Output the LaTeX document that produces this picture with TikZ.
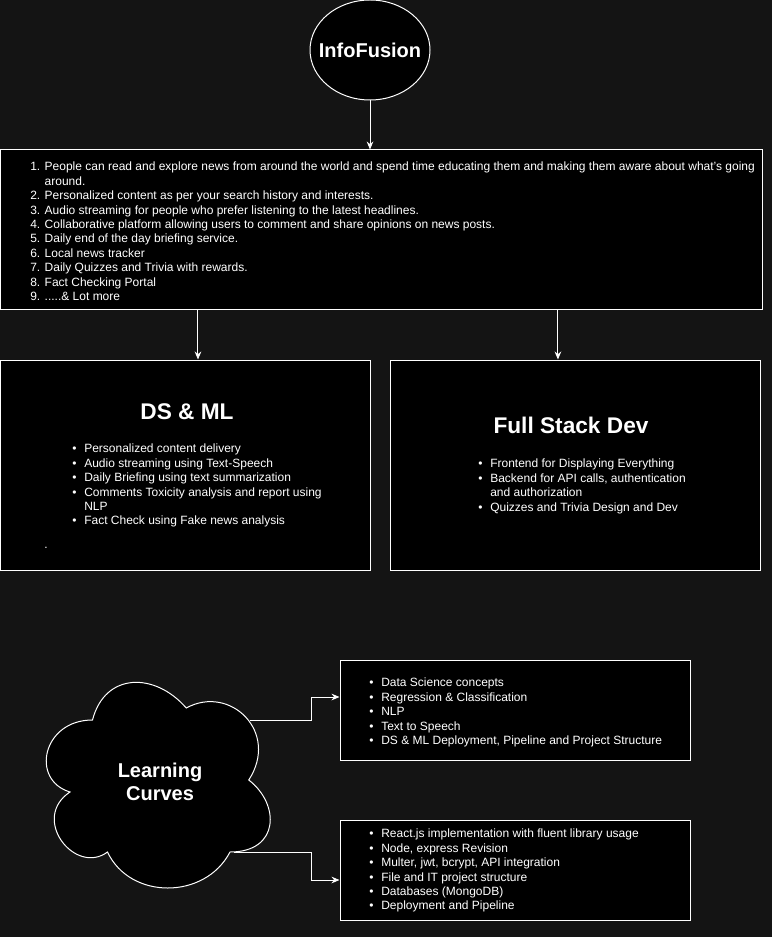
\documentclass[tikz,border=0pt]{standalone}
\usepackage{fontspec}
\setmainfont{Liberation Sans}
\usetikzlibrary{arrows.meta,calc,shapes.geometric}
\definecolor{canvas}{HTML}{141414}
\newcommand{\itm}{\makebox[9pt][l]{\textbullet}}

\begin{document}
\begin{tikzpicture}[x=0.75pt,y=-0.75pt,
    box/.style={draw=white,fill=black,line width=0.75pt,inner sep=0pt},
    txt/.style={text=white,font=\fontsize{9}{10.8}\selectfont,align=left,inner sep=0pt,anchor=north west},
    ttl/.style={text=white,font=\fontsize{15}{17.25}\selectfont\bfseries,align=center,inner sep=0pt},
    big/.style={ttl,font=\fontsize{17}{20}\selectfont\bfseries},
    arr/.style={draw=white,line width=0.75pt,-{Stealth[length=6pt,width=5pt]}}]

\fill[canvas] (0,0) rectangle (772,937);
\useasboundingbox (0,0) rectangle (772,937);

% idea
\node[box,ttl,ellipse,inner xsep=-8pt,minimum width=90pt,minimum height=75pt] (info) at (370,50) {InfoFusion};

\node[box,minimum width=571.5pt,minimum height=120pt] (feat) at (381,230) {};
\node[txt] (featlist) at (30,162) {1. People can read and explore news from around the world and spend time educating them and making them aware about what's going\\
\phantom{1. }around.\\
2. Personalized content as per your search history and interests.\\
3. Audio streaming for people who prefer listening to the latest headlines.\\
4. Collaborative platform allowing users to comment and share opinions on news posts.\\
5. Daily end of the day briefing service.\\
6. Local news tracker\\
7. Daily Quizzes and Trivia with rewards.\\
8. Fact Checking Portal\\
9. .....\& Lot more};

% the two teams
\node[box,minimum width=277.5pt,minimum height=157.5pt] (ds) at (185,465) {};
\node[big] (dsttl) at (187,412) {DS \& ML};
\node[txt] (dslist) at (72,444) {\itm Personalized content delivery\\
\itm Audio streaming using Text-Speech\\
\itm Daily Briefing using text summarization\\
\itm Comments Toxicity analysis and report using\\
\hspace*{9pt}NLP\\
\itm Fact Check using Fake news analysis};
\node[txt,anchor=center] (dot) at (46,548) {.};

\node[box,minimum width=277.5pt,minimum height=157.5pt] (fs) at (575,465) {};
\node[big] (fsttl) at (571,425) {Full Stack Dev};
\node[txt] (fslist) at (478,459) {\itm Frontend for Displaying Everything\\
\itm Backend for API calls, authentication\\
\hspace*{9pt}and authorization\\
\itm Quizzes and Trivia Design and Dev};

% learning curves
\draw[box] (92.5,720) .. controls (42.5,720) and (30,780) .. (70,792)
  .. controls (30,818.4) and (75,876) .. (107.5,852)
  .. controls (130,900) and (205,900) .. (230,852)
  .. controls (280,852) and (280,804) .. (248.75,780)
  .. controls (280,732) and (230,684) .. (186.25,708)
  .. controls (155,672) and (105,672) .. (92.5,720) -- cycle;
\node[ttl] (learn) at (160,782) {Learning\\Curves};

\node[box,minimum width=262.5pt,minimum height=75pt] (ml) at (515,710) {};
\node[txt] (mllist) at (369,678) {\itm Data Science concepts\\
\itm Regression \& Classification\\
\itm NLP\\
\itm Text to Speech\\
\itm DS \& ML Deployment, Pipeline and Project Structure};

\node[box,minimum width=262.5pt,minimum height=75pt] (web) at (515,870) {};
\node[txt] (weblist) at (369,829) {\itm React.js implementation with fluent library usage\\
\itm Node, express Revision\\
\itm Multer, jwt, bcrypt, API integration\\
\itm File and IT project structure\\
\itm Databases (MongoDB)\\
\itm Deployment and Pipeline};

% arrows
\coordinate (dsin) at ($(ds.north west)!0.535!(ds.north east)$);
\coordinate (fsin) at ($(fs.north west)!0.454!(fs.north east)$);
\draw[arr] (info.south) -- (info.south |- feat.north);
\draw[arr] (dsin |- feat.south) -- (dsin);
\draw[arr] (fsin |- feat.south) -- (fsin);
\draw[arr] ($(learn)+(90,-62)$) -- ++(61,0) |- ($(ml.west)+(0,-13)$);
\draw[arr] ($(learn)+(74,70)$) -- ++(77,0) |- ($(web.west)+(0,10)$);

\end{tikzpicture}
\end{document}
